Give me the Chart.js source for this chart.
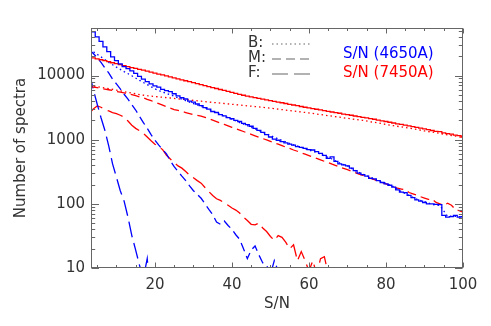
<!DOCTYPE html>
<html>
<head>
<meta charset="utf-8">
<script src="https://cdn.jsdelivr.net/npm/chart.js@4/dist/chart.umd.min.js"></script>
<style>
  html, body { margin: 0; padding: 0; background: #fff; }
</style>
</head>
<body>
<canvas id="chart" width="491" height="326"></canvas>
<script>
// S/N bins (histogram bin centres)
const sn = [3,4,5,6,7,8,9,10,11,12,13,14,15,16,17,18,19,20,21,22,23,24,25,26,27,28,29,30,
  31,32,33,34,35,36,37,38,39,40,41,42,43,44,45,46,47,48,49,50,51,52,53,54,55,56,57,58,59,60,
  61,62,63,64,65,66,67,68,69,70,71,72,73,74,75,76,77,78,79,80,81,82,83,84,85,86,87,88,89,90,
  91,92,93,94,95,96,97,98,99,100];
// coarser sampling used for the B (dotted) curves
const snB = [3,4,6,8,10,12,14,16,18,20,22,24,26,28,30,32,34,36,38,40,42,44,46,48,50,
  52,54,56,58,60,62,64,66,68,70,72,74,76,78,80,82,84,86,88,90,92,94,96,98,100];

// all spectra, S/N at 4650A (blue) and 7450A (red)
const blueAll = [52000,48000,40000,34000,28000,23500,19500,17000,15200,13800,12800,11800,10800,9700,8800,8000,7400,6900,
  6600,6100,5800,5600,5200,4800,4500,4300,4000,3850,3600,3400,3150,3000,2750,2650,2450,2350,2200,2120,
  2000,1920,1800,1720,1620,1500,1400,1300,1200,1100,1020,980,930,890,850,820,780,760,730,700,
  690,650,610,570,510,540,460,420,405,390,360,330,300,285,270,250,245,230,215,205,
  195,182,165,152,150,135,125,115,110,105,100,100,98,97,66,62,63,66,62,63];
const redAll = [19200,18800,18200,17600,17000,16400,15800,15300,14800,14300,13800,13300,12900,12500,12100,11700,11300,10900,
  10500,10200,9850,9500,9200,8870,8570,8280,8000,7730,7450,7200,6950,6710,6490,6270,6050,5850,5650,5460,
  5270,5090,4920,4780,4650,4520,4400,4290,4180,4060,3960,3860,3760,3660,3560,3470,3400,3290,3200,3130,
  3050,2980,2910,2840,2770,2700,2640,2580,2510,2450,2400,2340,2290,2230,2180,2130,2080,2020,1970,1920,
  1870,1820,1760,1730,1690,1640,1600,1550,1510,1470,1430,1390,1350,1330,1280,1240,1220,1180,1160,1100];

// B (bright) sample, dotted
const blueB = [25000,23500,19500,16000,13500,11500,9900,8400,7200,6200,5500,5000,4500,4050,3650,3300,2950,2620,2330,2080,
  1850,1650,1470,1300,1160,1030,920,830,760,690,630,560,500,430,390,330,290,260,230,210,
  185,155,135,118,108,98,94,64,64,62];
const redB = [6900,6840,6530,6240,5920,5610,5320,5050,4840,4710,4580,4460,4330,4210,4090,3980,3860,3760,3660,3560,
  3460,3370,3280,3190,3090,2990,2890,2790,2700,2610,2510,2420,2320,2240,2150,2070,2000,1900,1820,1730,
  1650,1580,1510,1440,1370,1310,1250,1190,1140,1080];

// M (medium) sample, dashed
const blueM = [25000,22000,19000,16000,13200,11000,8800,7400,6200,5100,4300,3500,2900,2300,1850,1500,1200,980,
  820,700,600,470,380,320,270,230,190,160,140,122,100,82,68,52,48,54,46,40,
  33,28,20,14,19,22,16,12,11,8,13,9,5];
const redM = [6700,6600,6450,6300,6150,6000,5850,5650,5500,5350,5200,5050,4850,4650,4500,4250,4050,3850,
  3650,3450,3250,3100,2950,2850,2750,2650,2550,2450,2400,2330,2230,2120,2010,1910,1820,1730,1640,1560,
  1480,1410,1340,1270,1210,1150,1090,1040,990,940,890,850,805,765,730,690,660,625,595,565,
  535,510,485,460,440,415,395,375,357,340,323,306,291,277,263,250,238,226,215,204,
  194,184,175,170,165,150,143,136,129,123,117,118,105,100,95,102,95,82,78,74];

// F (faint) sample, long dashed
const blueF = [11000,6000,3600,2200,1400,800,420,260,160,110,62,32,19,11,7,14,3];
const redF = [2600,3000,3350,3200,2950,2800,2650,2550,2400,2250,1950,1680,1500,1380,1250,1100,960,850,
  780,700,570,500,440,390,360,320,280,255,230,210,180,155,135,120,113,104,95,86,
  80,72,62,55,48,47,50,42,37,31,27,32,30,25,20,23,13,18,13,9,
  13,8,14,15,8,4];

// axis ticks
const xMajor = [20, 40, 60, 80, 100];
const xMinor = [5, 10, 15, 25, 30, 35, 45, 50, 55, 65, 70, 75, 85, 90, 95];
const yMajor = [10, 100, 1000, 10000];
const yMinor = [20, 30, 40, 50, 60, 70, 80, 90, 200, 300, 400, 500, 600, 700, 800, 900,
  2000, 3000, 4000, 5000, 6000, 7000, 8000, 9000, 20000, 30000, 40000, 50000];

const BLUE = '#0000ff';
const RED = '#ff0000';
const FONT = 'DejaVu Sans';
const TEXT = '#333';

const pts = (xs, ys) => ys.map((y, i) => ({x: xs[i], y: y}));

function series(label, xs, ys, color, dash, stepped) {
  return {
    label: label,
    data: pts(xs, ys),
    borderColor: color,
    borderWidth: 1.3,
    borderDash: dash,
    stepped: stepped ? 'middle' : false,
    pointRadius: 0,
    fill: false,
    tension: 0
  };
}

const idlBox = {
  id: 'idlBox',
  afterDraw(chart) {
    const {ctx, chartArea: a} = chart;
    const xs = chart.scales.x, ys = chart.scales.y;
    const L = Math.round(a.left) + 0.5, R = Math.round(a.right) - 0.5;
    const T = Math.round(a.top) + 0.5, B = Math.round(a.bottom) - 0.5;
    ctx.save();
    ctx.strokeStyle = '#666';
    ctx.lineWidth = 1;
    ctx.strokeRect(L, T, R - L, B - T);
    ctx.beginPath();
    const xt = (v, len) => {
      const p = Math.round(xs.getPixelForValue(v)) + 0.5;
      ctx.moveTo(p, B); ctx.lineTo(p, B - len);
      ctx.moveTo(p, T); ctx.lineTo(p, T + len);
    };
    const yt = (v, len) => {
      const p = Math.round(ys.getPixelForValue(v)) + 0.5;
      ctx.moveTo(L, p); ctx.lineTo(L + len, p);
      ctx.moveTo(R, p); ctx.lineTo(R - len, p);
    };
    xMajor.forEach(v => xt(v, 5));
    xMinor.forEach(v => xt(v, 2.5));
    yMajor.forEach(v => yt(v, 7.5));
    yMinor.forEach(v => yt(v, 3.7));
    ctx.stroke();

    // key
    ctx.font = '15px "' + FONT + '"';
    ctx.textBaseline = 'middle';
    ctx.textAlign = 'left';
    ctx.fillStyle = TEXT;
    const keys = [['B:', [1.5, 3], 43], ['M:', [9, 5], 58], ['F:', [16, 6], 73]];
    keys.forEach(k => {
      ctx.fillText(k[0], 248, k[2]);
      ctx.save();
      ctx.strokeStyle = '#999';
      ctx.lineWidth = 1.3;
      ctx.setLineDash(k[1]);
      ctx.beginPath();
      ctx.moveTo(272, k[2] + 1);
      ctx.lineTo(311, k[2] + 1);
      ctx.stroke();
      ctx.restore();
    });
    ctx.fillStyle = BLUE;
    ctx.fillText('S/N (4650A)', 343, 54);
    ctx.fillStyle = RED;
    ctx.fillText('S/N (7450A)', 343, 73);
    ctx.restore();
  }
};

new Chart(document.getElementById('chart'), {
  type: 'line',
  data: {
    datasets: [
      series('S/N (4650A)', sn, blueAll, BLUE, [], true),
      series('S/N (7450A)', sn, redAll, RED, [], true),
      series('B 4650', snB, blueB, BLUE, [1.5, 3], false),
      series('B 7450', snB, redB, RED, [1.5, 3], false),
      series('M 4650', sn, blueM, BLUE, [9, 5], false),
      series('M 7450', sn, redM, RED, [9, 5], false),
      series('F 4650', sn, blueF, BLUE, [16, 6], false),
      series('F 7450', sn, redF, RED, [16, 6], false)
    ]
  },
  options: {
    responsive: false,
    animation: false,
    devicePixelRatio: 1,
    layout: { padding: { top: 28, right: 28, left: 0, bottom: 0 } },
    plugins: { legend: { display: false }, tooltip: { enabled: false } },
    scales: {
      x: {
        type: 'linear',
        min: 3.4,
        max: 100,
        afterBuildTicks: s => { s.ticks = xMajor.map(v => ({value: v})); },
        afterFit: s => { s.height = 58; },
        grid: { display: false, drawTicks: false },
        border: { display: false },
        ticks: { autoSkip: false, maxRotation: 0, padding: 8, color: TEXT,
                 font: { family: FONT, size: 15 }, callback: v => String(v) },
        title: { display: true, text: 'S/N', color: TEXT,
                 font: { family: FONT, size: 15 }, padding: { top: 0, bottom: 13 } }
      },
      y: {
        type: 'logarithmic',
        min: 10,
        max: 55000,
        afterBuildTicks: s => { s.ticks = yMajor.map(v => ({value: v})); },
        afterFit: s => { s.width = 91; },
        grid: { display: false, drawTicks: false },
        border: { display: false },
        ticks: { autoSkip: false, padding: 6, color: TEXT,
                 font: { family: FONT, size: 15 }, callback: v => String(v) },
        title: { display: true, text: 'Number of spectra', color: TEXT,
                 font: { family: FONT, size: 15 }, padding: { top: 12, bottom: 0 } }
      }
    }
  },
  plugins: [idlBox]
});
</script>
</body>
</html>
